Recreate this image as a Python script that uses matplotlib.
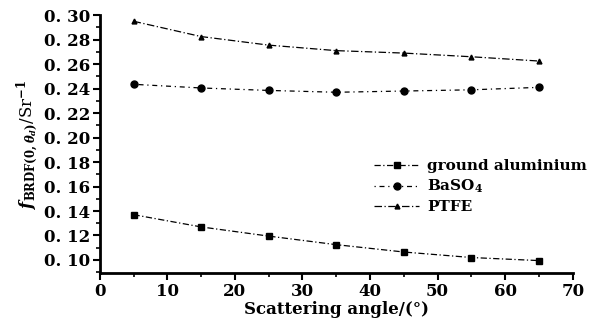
import numpy as np
import matplotlib.pyplot as plt
from matplotlib.ticker import MultipleLocator, FuncFormatter

# scattering angle (deg)
angle = [5, 15, 25, 35, 45, 55, 65]

# BRDF values
aluminium = [0.137, 0.127, 0.1195, 0.1125, 0.1065, 0.102, 0.0995]
baso4 = [0.2435, 0.2405, 0.2385, 0.237, 0.238, 0.239, 0.241]
ptfe = [0.295, 0.2825, 0.2755, 0.271, 0.269, 0.266, 0.2625]

plt.rcParams['font.family'] = ['DejaVu Serif']
plt.rcParams['font.weight'] = 'bold'
plt.rcParams['mathtext.fontset'] = 'dejavuserif'

fig = plt.figure(figsize=(6.01, 3.29), dpi=100)
ax = fig.add_axes([0.166, 0.170, 0.787, 0.784])

ax.plot(angle, aluminium, color='black', lw=0.9, ls=(0, (5, 2, 1, 2)),
        marker='s', ms=5, label='ground aluminium')
ax.plot(angle, baso4, color='black', lw=0.9, ls=(0, (1, 3, 4, 3)),
        marker='o', ms=5, label='BaSO$_4$')
ax.plot(angle, ptfe, color='black', lw=0.9, ls=(0, (6, 2, 1, 2)),
        marker='^', ms=3.5, label='PTFE')

ax.set_xlim(0, 70)
ax.set_ylim(0.0893, 0.30)
ax.xaxis.set_major_locator(MultipleLocator(10))
ax.xaxis.set_minor_locator(MultipleLocator(5))
ax.yaxis.set_major_locator(MultipleLocator(0.02))
ax.yaxis.set_minor_locator(MultipleLocator(0.01))
ax.yaxis.set_major_formatter(FuncFormatter(lambda v, p: '0. %02d' % round(v * 100)))

for s in ['top', 'right']:
    ax.spines[s].set_visible(False)
for s in ['left', 'bottom']:
    ax.spines[s].set_linewidth(2)
ax.tick_params(which='major', length=5, width=1.5, labelsize=12, pad=2)
ax.tick_params(which='minor', length=3, width=1.2)

ax.set_xlabel('Scattering angle/(°)', fontsize=12, fontweight='bold', labelpad=1)
ax.set_ylabel(r'$f_{\mathrm{BRDF}(0,\theta_d)}$/Sr$^{-1}$', fontsize=12, labelpad=2)

ax.legend(loc='center left', bbox_to_anchor=(0.55, 0.335), frameon=False,
          fontsize=11, handlelength=3, labelspacing=0.3, handletextpad=0.5)

fig.savefig('out.png')
